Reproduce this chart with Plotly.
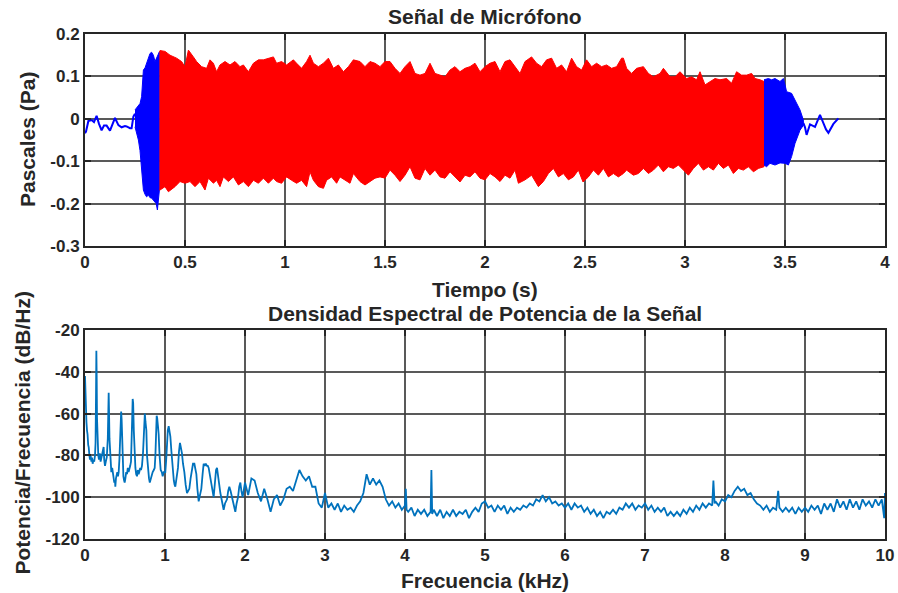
import plotly.graph_objects as go

# ---------------- Microphone signal (envelope of the recorded pressure) ----------------
# quiet lead-in before the tone starts
quiet_start_t = [0.000, 0.005, 0.017, 0.033, 0.045, 0.058, 0.070, 0.083, 0.095, 0.108, 0.125,
                 0.138, 0.150, 0.167, 0.183, 0.200, 0.208, 0.225, 0.233, 0.242, 0.250]
quiet_start_p = [-0.034, -0.030, -0.005, -0.003, -0.008, 0.007, -0.012, -0.027, -0.016, -0.016, -0.028,
                 -0.010, 0.002, -0.015, -0.020, -0.017, -0.018, -0.022, -0.022, 0.005, 0.012]

# onset (blue)
onset_hi_t = [0.250, 0.258, 0.267, 0.275, 0.283, 0.288, 0.292, 0.300, 0.308, 0.317, 0.325, 0.333,
              0.342, 0.350, 0.358, 0.367, 0.372]
onset_hi = [0.021, 0.026, 0.029, 0.036, 0.052, 0.090, 0.115, 0.120, 0.131, 0.145, 0.154, 0.157,
            0.150, 0.135, 0.145, 0.154, 0.158]
onset_lo_t = [0.250, 0.258, 0.267, 0.275, 0.283, 0.288, 0.292, 0.300, 0.308, 0.317, 0.325, 0.333,
              0.342, 0.350, 0.356, 0.362, 0.367, 0.372]
onset_lo = [-0.019, -0.030, -0.050, -0.075, -0.105, -0.140, -0.168, -0.178, -0.184, -0.180, -0.186, -0.187,
            -0.192, -0.196, -0.200, -0.215, -0.195, -0.168]

# sustained tone (red)
main_hi_t = [0.372, 0.375, 0.400, 0.425, 0.458, 0.483, 0.500, 0.517, 0.542, 0.558, 0.583, 0.608,
             0.625, 0.642, 0.658, 0.675, 0.700, 0.725, 0.750, 0.775, 0.792, 0.817, 0.842, 0.867,
             0.892, 0.917, 0.942, 0.958, 0.983, 1.008, 1.042, 1.058, 1.083, 1.108, 1.125, 1.142,
             1.167, 1.192, 1.217, 1.242, 1.267, 1.292, 1.317, 1.342, 1.375, 1.400, 1.425, 1.450,
             1.475, 1.500, 1.525, 1.550, 1.575, 1.600, 1.625, 1.650, 1.675, 1.700, 1.725, 1.750,
             1.775, 1.800, 1.825, 1.850, 1.875, 1.900, 1.925, 1.950, 1.975, 2.000, 2.025, 2.050,
             2.075, 2.100, 2.125, 2.150, 2.175, 2.200, 2.233, 2.258, 2.283, 2.308, 2.333, 2.358,
             2.383, 2.408, 2.433, 2.458, 2.483, 2.508, 2.533, 2.558, 2.583, 2.608, 2.633, 2.658,
             2.683, 2.692, 2.708, 2.733, 2.758, 2.792, 2.817, 2.842, 2.875, 2.892, 2.925, 2.950,
             2.975, 3.008, 3.033, 3.058, 3.075, 3.100, 3.125, 3.150, 3.175, 3.208, 3.233, 3.258,
             3.283, 3.308, 3.333, 3.350, 3.375, 3.395]
main_hi = [0.158, 0.161, 0.159, 0.150, 0.143, 0.135, 0.123, 0.162, 0.146, 0.135, 0.123, 0.119,
           0.139, 0.131, 0.111, 0.127, 0.135, 0.127, 0.135, 0.123, 0.127, 0.111, 0.131, 0.139,
           0.139, 0.143, 0.146, 0.131, 0.135, 0.127, 0.139, 0.131, 0.119, 0.135, 0.150, 0.131,
           0.123, 0.131, 0.143, 0.119, 0.127, 0.111, 0.123, 0.139, 0.135, 0.123, 0.135, 0.131,
           0.123, 0.135, 0.135, 0.119, 0.107, 0.123, 0.135, 0.107, 0.103, 0.107, 0.131, 0.107,
           0.103, 0.099, 0.115, 0.123, 0.111, 0.119, 0.123, 0.131, 0.111, 0.123, 0.131, 0.135,
           0.111, 0.135, 0.139, 0.123, 0.107, 0.135, 0.146, 0.131, 0.123, 0.139, 0.143, 0.119,
           0.127, 0.111, 0.143, 0.123, 0.115, 0.139, 0.123, 0.131, 0.123, 0.127, 0.119, 0.123,
           0.143, 0.143, 0.119, 0.107, 0.119, 0.123, 0.107, 0.099, 0.107, 0.119, 0.099, 0.099,
           0.111, 0.095, 0.099, 0.092, 0.111, 0.080, 0.088, 0.095, 0.092, 0.095, 0.084, 0.111,
           0.103, 0.103, 0.107, 0.095, 0.092, 0.088]
main_lo_t = [0.372, 0.375, 0.400, 0.417, 0.450, 0.475, 0.500, 0.525, 0.550, 0.575, 0.600, 0.617,
             0.642, 0.658, 0.675, 0.692, 0.717, 0.742, 0.767, 0.792, 0.817, 0.842, 0.867, 0.892,
             0.917, 0.942, 0.958, 0.983, 1.008, 1.033, 1.058, 1.083, 1.108, 1.125, 1.142, 1.167,
             1.192, 1.208, 1.233, 1.258, 1.275, 1.300, 1.325, 1.342, 1.375, 1.400, 1.425, 1.450,
             1.475, 1.500, 1.525, 1.550, 1.575, 1.600, 1.625, 1.650, 1.675, 1.700, 1.725, 1.750,
             1.775, 1.800, 1.825, 1.850, 1.875, 1.900, 1.925, 1.950, 1.975, 2.000, 2.025, 2.050,
             2.075, 2.100, 2.125, 2.150, 2.167, 2.200, 2.233, 2.267, 2.292, 2.317, 2.342, 2.367,
             2.392, 2.417, 2.442, 2.467, 2.490, 2.517, 2.542, 2.567, 2.592, 2.617, 2.642, 2.667,
             2.692, 2.708, 2.742, 2.767, 2.792, 2.817, 2.842, 2.867, 2.892, 2.917, 2.942, 2.967,
             2.992, 3.017, 3.042, 3.067, 3.092, 3.117, 3.142, 3.167, 3.192, 3.217, 3.242, 3.267,
             3.292, 3.317, 3.342, 3.367, 3.395]
main_lo = [-0.168, -0.168, -0.160, -0.172, -0.160, -0.148, -0.152, -0.148, -0.160, -0.148, -0.168, -0.140,
           -0.152, -0.145, -0.160, -0.137, -0.148, -0.137, -0.156, -0.148, -0.160, -0.145, -0.152, -0.140,
           -0.152, -0.140, -0.148, -0.152, -0.137, -0.145, -0.152, -0.145, -0.160, -0.125, -0.145, -0.160,
           -0.164, -0.145, -0.137, -0.152, -0.137, -0.145, -0.152, -0.129, -0.148, -0.156, -0.148, -0.140,
           -0.137, -0.140, -0.121, -0.133, -0.148, -0.133, -0.113, -0.140, -0.144, -0.117, -0.133, -0.121,
           -0.137, -0.140, -0.125, -0.137, -0.149, -0.133, -0.137, -0.125, -0.140, -0.144, -0.129, -0.137,
           -0.148, -0.133, -0.140, -0.121, -0.152, -0.144, -0.133, -0.160, -0.148, -0.129, -0.117, -0.137,
           -0.129, -0.144, -0.137, -0.121, -0.149, -0.137, -0.121, -0.133, -0.117, -0.137, -0.129, -0.137,
           -0.129, -0.121, -0.133, -0.129, -0.117, -0.129, -0.121, -0.109, -0.125, -0.113, -0.117, -0.109,
           -0.121, -0.133, -0.117, -0.105, -0.121, -0.113, -0.121, -0.105, -0.117, -0.109, -0.129, -0.117,
           -0.121, -0.113, -0.125, -0.117, -0.113]

# decay (blue)
decay_hi_t = [3.395, 3.417, 3.433, 3.450, 3.475, 3.492, 3.500, 3.508, 3.533, 3.550, 3.575, 3.592]
decay_hi = [0.092, 0.095, 0.092, 0.095, 0.088, 0.095, 0.080, 0.064, 0.060, 0.044, 0.021, -0.003]
decay_lo_t = [3.395, 3.408, 3.425, 3.450, 3.475, 3.500, 3.517, 3.533, 3.550, 3.575, 3.592]
decay_lo = [-0.109, -0.113, -0.105, -0.109, -0.104, -0.105, -0.109, -0.089, -0.058, -0.027, -0.015]

# quiet tail after the tone
quiet_end_t = [3.592, 3.600, 3.608, 3.625, 3.650, 3.667, 3.675, 3.692, 3.705, 3.717, 3.742, 3.767]
quiet_end_p = [-0.010, -0.020, -0.038, -0.013, -0.019, 0.000, 0.009, -0.010, -0.025, -0.033, -0.012, 0.001]

# ---------------- Power spectral density (kHz, dB/Hz) ----------------
# harmonic region below 2 kHz
psd_lf_f = [0.000, 0.004, 0.010, 0.018, 0.025, 0.032, 0.040, 0.046, 0.055, 0.062, 0.070, 0.080,
            0.088, 0.096, 0.104, 0.115, 0.125, 0.132, 0.138, 0.142, 0.146, 0.150, 0.158, 0.166,
            0.175, 0.185, 0.195, 0.205, 0.217, 0.225, 0.233, 0.240, 0.250, 0.260, 0.272, 0.285,
            0.292, 0.296, 0.300, 0.306, 0.313, 0.320, 0.329, 0.340, 0.350, 0.358, 0.366, 0.375,
            0.379, 0.387, 0.395, 0.404, 0.412, 0.421, 0.430, 0.440, 0.447, 0.452, 0.458, 0.465,
            0.471, 0.480, 0.489, 0.496, 0.505, 0.515, 0.525, 0.535, 0.545, 0.554, 0.565, 0.575,
            0.583, 0.590, 0.596, 0.602, 0.610, 0.620, 0.630, 0.640, 0.650, 0.660, 0.670, 0.679,
            0.690, 0.700, 0.712, 0.725, 0.735, 0.742, 0.748, 0.756, 0.767, 0.775, 0.787, 0.800,
            0.810, 0.817, 0.830, 0.846, 0.860, 0.871, 0.880, 0.890, 0.896, 0.902, 0.912, 0.921,
            0.932, 0.946, 0.960, 0.971, 0.985, 1.004, 1.015, 1.025, 1.035, 1.046, 1.056, 1.067,
            1.080, 1.096, 1.110, 1.120, 1.129, 1.140, 1.150, 1.162, 1.175, 1.187, 1.197, 1.212,
            1.225, 1.242, 1.258, 1.275, 1.290, 1.304, 1.320, 1.337, 1.350, 1.367, 1.380, 1.392,
            1.405, 1.421, 1.437, 1.454, 1.470, 1.483, 1.497, 1.510, 1.525, 1.535, 1.546, 1.562,
            1.579, 1.595, 1.608, 1.622, 1.638, 1.650, 1.663, 1.678, 1.692, 1.712, 1.733, 1.750,
            1.775, 1.790, 1.804, 1.820, 1.838, 1.858, 1.879, 1.895, 1.913, 1.928, 1.942, 1.955,
            1.970, 1.987]
psd_lf_db = [-42, -50, -58, -64, -68, -70, -75, -76, -80, -82, -80, -83,
             -81, -84, -82, -83, -80, -74, -50, -30, -42, -62, -77, -80,
             -82, -79, -83, -81, -80, -78, -76, -82, -85, -83, -81, -72,
             -55, -50, -58, -72, -80, -84, -88, -86, -90, -90, -93, -92,
             -95, -91, -90, -88, -90, -88, -82, -68, -60, -59, -63, -75,
             -84, -90, -92, -93, -91, -88, -89, -86, -88, -87, -85, -83,
             -76, -62, -53, -55, -68, -80, -86, -89, -90, -87, -89, -88,
             -86, -87, -85, -79, -68, -60, -60, -64, -68, -80, -87, -91,
             -93, -92, -89, -88, -87, -86, -80, -67, -61, -62, -66, -70,
             -80, -87, -88, -90, -88, -88, -82, -72, -68, -66, -68, -71,
             -78, -87, -92, -94, -95, -92, -90, -86, -78, -74, -76, -79,
             -84, -88, -94, -98, -97, -96, -91, -87, -84, -84, -86, -89,
             -96, -102, -99, -96, -89, -84, -85, -84, -85, -85, -86, -90,
             -95, -98, -100, -94, -87, -86, -89, -94, -98, -102, -106, -103,
             -101, -97, -95, -97, -100, -104, -107, -103, -100, -95, -93, -97,
             -100, -96]

# broadband region 2-10 kHz (narrow tonal spikes included)
psd_hf_f = [2.00, 2.04, 2.08, 2.12, 2.16, 2.20, 2.24, 2.28, 2.32, 2.36, 2.40, 2.44,
            2.48, 2.52, 2.56, 2.60, 2.64, 2.68, 2.72, 2.76, 2.80, 2.84, 2.88, 2.92,
            2.96, 3.00, 3.04, 3.08, 3.12, 3.16, 3.20, 3.24, 3.28, 3.32, 3.36, 3.40,
            3.44, 3.48, 3.52, 3.56, 3.60, 3.64, 3.68, 3.72, 3.76, 3.80, 3.84, 3.88,
            3.92, 3.96, 4.00, 4.01, 4.02, 4.04, 4.08, 4.12, 4.16, 4.20, 4.24, 4.28,
            4.32, 4.33, 4.34, 4.36, 4.40, 4.44, 4.48, 4.52, 4.56, 4.60, 4.64, 4.68,
            4.72, 4.76, 4.80, 4.84, 4.88, 4.92, 4.96, 5.00, 5.04, 5.08, 5.12, 5.16,
            5.20, 5.24, 5.28, 5.32, 5.36, 5.40, 5.44, 5.48, 5.52, 5.56, 5.60, 5.64,
            5.68, 5.72, 5.76, 5.80, 5.84, 5.88, 5.92, 5.96, 6.00, 6.04, 6.08, 6.12,
            6.16, 6.20, 6.24, 6.28, 6.32, 6.36, 6.40, 6.44, 6.48, 6.52, 6.56, 6.60,
            6.64, 6.68, 6.72, 6.76, 6.80, 6.84, 6.88, 6.92, 6.96, 7.00, 7.04, 7.08,
            7.12, 7.16, 7.20, 7.24, 7.28, 7.32, 7.36, 7.40, 7.44, 7.48, 7.52, 7.56,
            7.60, 7.64, 7.68, 7.72, 7.76, 7.80, 7.84, 7.855, 7.87, 7.88, 7.92, 7.96,
            8.00, 8.04, 8.08, 8.12, 8.16, 8.20, 8.24, 8.28, 8.32, 8.36, 8.40, 8.44,
            8.48, 8.52, 8.56, 8.60, 8.64, 8.665, 8.68, 8.72, 8.76, 8.80, 8.84, 8.88,
            8.92, 8.96, 9.00, 9.04, 9.08, 9.12, 9.16, 9.20, 9.24, 9.28, 9.32, 9.36,
            9.40, 9.44, 9.48, 9.52, 9.56, 9.60, 9.64, 9.68, 9.72, 9.76, 9.80, 9.84,
            9.88, 9.92, 9.96, 9.99, 10.00]
psd_hf_db = [-93, -99, -91, -92, -98, -102, -96, -101, -107, -101, -99, -104,
             -101, -96, -95, -97, -92, -87, -90, -92, -90, -95, -95, -103,
             -105, -98, -105, -103, -106, -103, -107, -104, -106, -105, -107, -104,
             -102, -98, -89, -94, -91, -94, -92, -95, -101, -104, -102, -105,
             -103, -106, -104, -96, -106, -107, -105, -109, -106, -108, -106, -109,
             -107, -87, -108, -106, -109, -106, -110, -107, -109, -106, -109, -107,
             -108, -106, -110, -107, -105, -107, -103, -102, -105, -104, -107, -104,
             -106, -104, -108, -105, -107, -105, -106, -104, -105, -103, -104, -101,
             -102, -99, -102, -100, -103, -102, -104, -103, -105, -103, -106, -103,
             -105, -104, -107, -105, -108, -106, -109, -107, -110, -107, -108, -106,
             -108, -105, -106, -103, -105, -103, -106, -104, -105, -103, -106, -104,
             -107, -105, -107, -105, -109, -107, -109, -107, -109, -106, -108, -105,
             -107, -104, -106, -103, -105, -103, -104, -92, -103, -102, -104, -101,
             -102, -99, -100, -97, -95, -97, -96, -99, -98, -101, -103, -104,
             -106, -104, -107, -105, -106, -97, -105, -107, -105, -107, -105, -108,
             -105, -107, -105, -107, -104, -106, -104, -108, -103, -106, -103, -107,
             -101, -105, -102, -106, -101, -105, -102, -106, -101, -104, -102, -105,
             -101, -104, -101, -110, -98]

# ---------------- Axis ticks ----------------
t_ticks = [0, 0.5, 1, 1.5, 2, 2.5, 3, 3.5, 4]
t_labels = ["0", "0.5", "1", "1.5", "2", "2.5", "3", "3.5", "4"]
p_ticks = [-0.3, -0.2, -0.1, 0, 0.1, 0.2]
p_labels = ["-0.3", "-0.2", "-0.1", "0", "0.1", "0.2"]
f_ticks = [0, 1, 2, 3, 4, 5, 6, 7, 8, 9, 10]
f_labels = ["0", "1", "2", "3", "4", "5", "6", "7", "8", "9", "10"]
db_ticks = [-120, -100, -80, -60, -40, -20]
db_labels = ["-120", "-100", "-80", "-60", "-40", "-20"]

BLUE = "#0000FF"
RED = "#FF0000"
PSD_COLOR = "#0072BD"
TEXT = "#262626"
FONT = "Liberation Sans"


def band(hi_t, hi, lo_t, lo):
    """Closed outline: upper envelope forward, lower envelope backward."""
    return list(hi_t) + list(lo_t[::-1]), list(hi) + list(lo[::-1])


fig = go.Figure()

fig.add_trace(go.Scatter(x=quiet_start_t, y=quiet_start_p, mode="lines",
                         line=dict(color=BLUE, width=2), xaxis="x", yaxis="y"))
for (ht, hv, lt, lv, col) in [(onset_hi_t, onset_hi, onset_lo_t, onset_lo, BLUE),
                              (main_hi_t, main_hi, main_lo_t, main_lo, RED),
                              (decay_hi_t, decay_hi, decay_lo_t, decay_lo, BLUE)]:
    bx, by = band(ht, hv, lt, lv)
    fig.add_trace(go.Scatter(x=bx, y=by, mode="lines", fill="toself", fillcolor=col,
                             line=dict(color=col, width=1), xaxis="x", yaxis="y"))
fig.add_trace(go.Scatter(x=quiet_end_t, y=quiet_end_p, mode="lines",
                         line=dict(color=BLUE, width=2), xaxis="x", yaxis="y"))

fig.add_trace(go.Scatter(x=psd_lf_f + psd_hf_f, y=psd_lf_db + psd_hf_db, mode="lines",
                         line=dict(color=PSD_COLOR, width=1.8), xaxis="x2", yaxis="y2"))

tickfont = dict(family=FONT, size=17, color=TEXT, weight="bold")
common = dict(showgrid=True, gridcolor="rgba(60,60,60,0.85)", gridwidth=1.6,
              showline=True, linecolor=TEXT, linewidth=2, mirror="allticks",
              ticks="inside", ticklen=6, tickwidth=2, tickcolor=TEXT,
              tickfont=tickfont, zeroline=False, tickmode="array", automargin=False)

fig.update_layout(
    width=898, height=593,
    margin=dict(l=85, r=13, t=34, b=54),
    paper_bgcolor="white", plot_bgcolor="white",
    showlegend=False,
    xaxis=dict(domain=[0, 1], anchor="y", range=[0, 4], tickvals=t_ticks, ticktext=t_labels, **common),
    yaxis=dict(domain=[0.5802, 1], anchor="x", range=[-0.3, 0.2], tickvals=p_ticks, ticktext=p_labels, **common),
    xaxis2=dict(domain=[0, 1], anchor="y2", range=[0, 10], tickvals=f_ticks, ticktext=f_labels, **common),
    yaxis2=dict(domain=[0, 0.4139], anchor="x2", range=[-120, -20], tickvals=db_ticks, ticktext=db_labels, **common),
)

labfont = dict(family=FONT, size=21, color=TEXT, weight="bold")
notes = [
    dict(text="Señal de Micrófono", x=0.5, y=1.0337, textangle=0),
    dict(text="Tiempo (s)", x=0.5, y=0.495, textangle=0),
    dict(text="Densidad Espectral de Potencia de la Señal", x=0.5, y=0.4475, textangle=0),
    dict(text="Frecuencia (kHz)", x=0.5, y=-0.0812, textangle=0),
    dict(text="Pascales (Pa)", x=-0.0725, y=0.790, textangle=-90),
    dict(text="Potencia/Frecuencia (dB/Hz)", x=-0.078, y=0.21, textangle=-90),
]
for n in notes:
    fig.add_annotation(xref="paper", yref="paper", xanchor="center", yanchor="middle",
                       showarrow=False, font=labfont, **n)

fig.write_html("out.html")
